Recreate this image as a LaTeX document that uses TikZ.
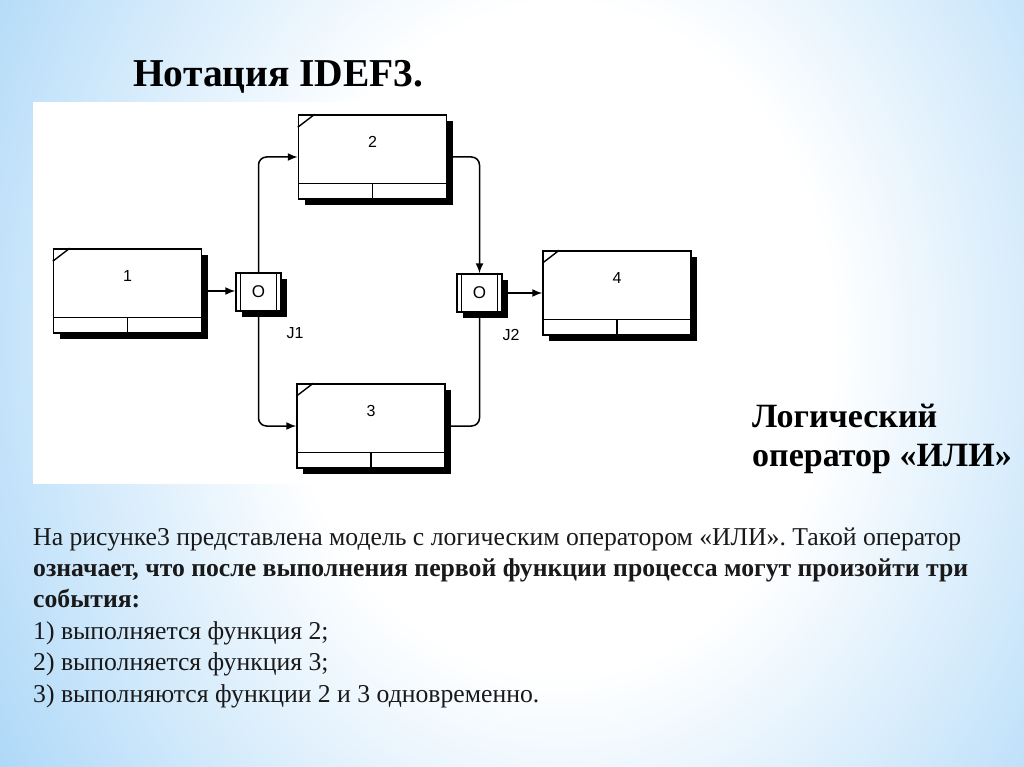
\documentclass[tikz,border=0pt]{standalone}
\usepackage{fontspec}
\setmainfont{Liberation Serif}
\setsansfont{Liberation Sans}
\usetikzlibrary{arrows.meta,positioning,shadows}

\definecolor{slideblue}{RGB}{152,206,246}
\definecolor{inktext}{RGB}{25,25,25}
\pgfdeclareradialshading{slideglow}{\pgfpoint{0bp}{0bp}}{color(0bp)=(white); color(11bp)=(white); color(31bp)=(slideblue); color(50bp)=(slideblue)}

\tikzset{
  fbox/.style={draw, fill=white, line width=1.5pt, minimum width=148pt, minimum height=84pt, inner sep=0pt,
    drop shadow={shadow xshift=6pt, shadow yshift=-6pt, opacity=1, fill=black}},
  jbox/.style={draw, fill=white, line width=1.5pt, minimum width=45pt, minimum height=38pt, inner sep=0pt,
    font=\sffamily\fontsize{17}{17}\selectfont,
    drop shadow={shadow xshift=6pt, shadow yshift=-6pt, opacity=1, fill=black}},
  flow/.style={line width=1.5pt, -{Latex[length=10pt,width=8pt]}},
  link/.style={line width=1.5pt},
  num/.style={font=\sffamily\fontsize{16}{16}\selectfont, inner sep=0pt}
}

\begin{document}
\begin{tikzpicture}[x=1pt, y=-1pt]
  % Slide background
  \useasboundingbox (0,0) rectangle (1024,767);
  \fill[slideblue] (0,0) rectangle (1024,767);
  \begin{scope}
    \clip (0,0) rectangle (1024,767);
    \shade[shading=slideglow] (-60,-420) rectangle (1180,1100);
  \end{scope}

  % White panel
  \fill[white] (33,102) rectangle (722,484);

  % Function boxes
  \foreach \n/\x/\y in {1/127.5/291, 2/372.5/157, 3/371/426, 4/617/293} {
    \node[fbox] (b\n) at (\x,\y) {};
    \node[num] (n\n) at ([yshift=-28pt]b\n.north) {\n};
    \draw[line width=1.4pt] ([yshift=16pt]b\n.south west) -- ([yshift=16pt]b\n.south east);
    \draw[line width=1.4pt] ([yshift=16pt]b\n.south) -- (b\n.south);
    \draw[line width=1.4pt] ([yshift=-13pt]b\n.north west) -- ([xshift=17pt]b\n.north west);
  }

  % Junctions
  \foreach \j/\x/\y in {j1/258.5/292, j2/479.5/293} {
    \node[jbox] (\j) at (\x,\y) {O};
    \draw[line width=1.4pt] ([xshift=5pt]\j.north west) -- ([xshift=5pt]\j.south west);
    \draw[line width=1.4pt] ([xshift=-5pt]\j.north east) -- ([xshift=-5pt]\j.south east);
  }
  \node[num] (l1) at (295,333) {J1};
  \node[num] (l2) at (511,335) {J2};

  % Links
  \draw[flow] (b1.east) -- (b1.east -| j1.west);
  \draw[flow, rounded corners=8pt] (j1.north) |- (b2.west);
  \draw[flow, rounded corners=8pt] (j1.south) |- (b3.west);
  \draw[flow, rounded corners=8pt] (b2.east) -| (j2.north);
  \draw[link, rounded corners=8pt] (b3.east) -| (j2.south);
  \draw[flow] (j2.east) -- (j2.east -| b4.west);

  % Texts
  \node[anchor=base west, inner sep=0pt, font=\bfseries\fontsize{39.5}{39.5}\selectfont] (title) at (133,87) {Нотация IDEF3.};
  \node[anchor=base west, inner sep=0pt, align=left, font=\bfseries\fontsize{34}{39}\selectfont] (oper) at (752,466) {Логический\\оператор «ИЛИ»};
  \node[anchor=base west, inner sep=0pt, align=left, text=inktext, font=\fontsize{25.7}{31.4}\selectfont] (body) at (33,702) {На рисунке3 представлена модель с логическим оператором «ИЛИ». Такой оператор\\
    \textbf{означает, что после выполнения первой функции процесса могут произойти три}\\
    \textbf{события:}\\
    1) выполняется функция 2;\\
    2) выполняется функция 3;\\
    3) выполняются функции 2 и 3 одновременно.};
\end{tikzpicture}
\end{document}
